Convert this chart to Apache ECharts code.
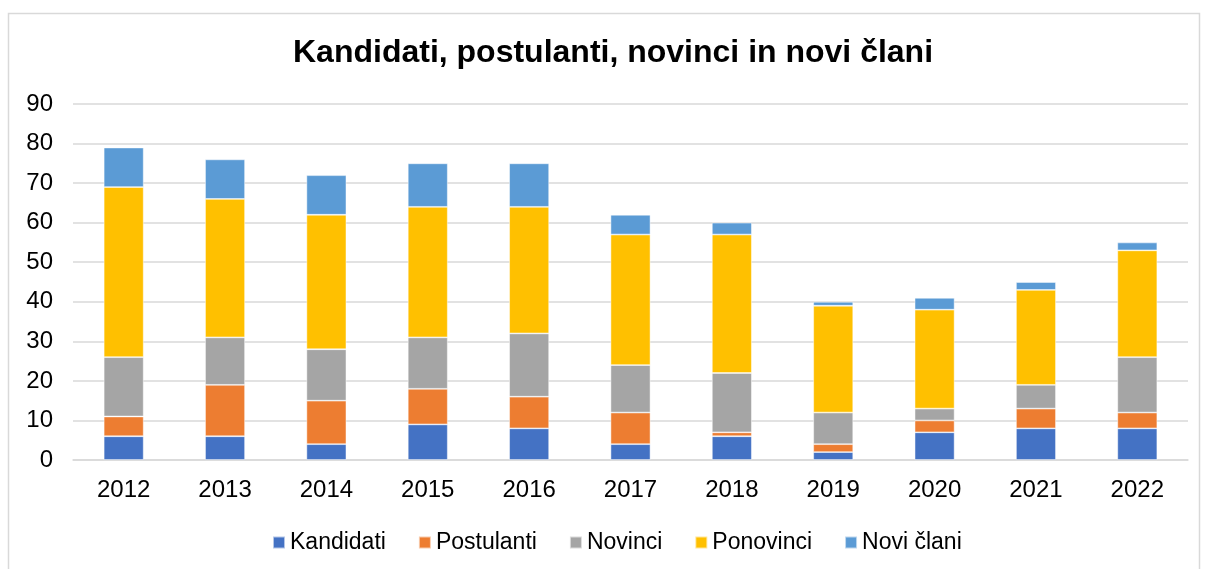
<!DOCTYPE html>
<html><head><meta charset="utf-8">
<script src="https://cdn.jsdelivr.net/npm/echarts@6/dist/echarts.min.js"></script>
<style>html,body{margin:0;padding:0;background:#fff}#c{width:1207px;height:569px}</style>
</head><body><div id="c"></div>
<script>
const years = ['2012','2013','2014','2015','2016','2017','2018','2019','2020','2021','2022'];
const kandidati = [6,6,4,9,8,4,6,2,7,8,8];
const postulanti = [5,13,11,9,8,8,1,2,3,5,4];
const novinci = [15,12,13,13,16,12,15,8,3,6,14];
const ponovinci = [43,35,34,33,32,33,35,27,25,24,27];
const noviClani = [10,10,10,11,11,5,3,1,3,2,2];
const names = ['Kandidati','Postulanti','Novinci','Ponovinci','Novi člani'];
const colors = ['#4472C4','#ED7D31','#A5A5A5','#FFC000','#5B9BD5'];
const datasets = [kandidati, postulanti, novinci, ponovinci, noviClani];
const FONT = 'Liberation Sans, Arial, sans-serif';
const chart = echarts.init(document.getElementById('c'));
chart.setOption({
  animation: false,
  graphic: [{type:'rect', shape:{x:8.5,y:13.5,width:1191,height:570}, style:{fill:'none', stroke:'#d9d9d9', lineWidth:1.5}, z:-1}],
  title: {text:'Kandidati, postulanti, novinci in novi člani', left:288, top:32,
    textStyle:{fontFamily:FONT, fontSize:32, fontWeight:'bold', color:'#000'}},
  grid: {left:73, right:19, top:104, bottom:109, containLabel:false},
  legend: {top:526, left:267, itemWidth:12, itemHeight:12, itemGap:32,
    icon:'rect', textStyle:{fontFamily:FONT, fontSize:23, color:'#000'}, data:names},
  xAxis: {type:'category', data:years, axisTick:{show:false},
    axisLine:{lineStyle:{color:'#d9d9d9', width:1.5}},
    axisLabel:{fontFamily:FONT, fontSize:24, color:'#000', margin:18}},
  yAxis: {type:'value', min:0, max:90, interval:10,
    axisLine:{show:false}, axisTick:{show:false},
    splitLine:{lineStyle:{color:'#d9d9d9', width:1.5}},
    axisLabel:{fontFamily:FONT, fontSize:24, color:'#000', margin:20}},
  series: names.map((n,i)=>({name:n, type:'bar', stack:'s', data:datasets[i], barWidth:40,
    itemStyle:{color:colors[i], borderColor:'rgba(255,255,255,0.6)', borderWidth:0.8}}))
});
</script></body></html>
